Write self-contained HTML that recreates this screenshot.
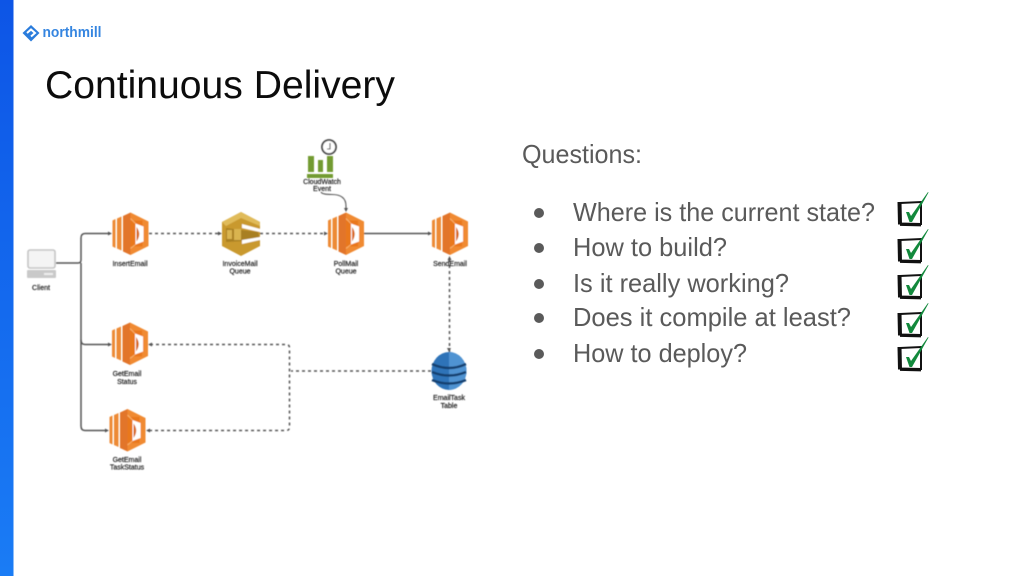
<!DOCTYPE html>
<html><head><meta charset="utf-8"><style>
html,body{margin:0;padding:0;background:#fff;width:1024px;height:576px;overflow:hidden}
svg{display:block;font-family:"Liberation Sans",sans-serif}
.lb{font-size:7px;fill:#222;stroke:#222;stroke-width:.2;text-anchor:middle}
.q{font-size:26px;fill:#5a5a5a}
</style></head><body>
<svg width="1024" height="576" viewBox="0 0 1024 576" xmlns="http://www.w3.org/2000/svg">
<defs>
<linearGradient id="bar" x1="0" y1="0" x2="0" y2="1"><stop offset="0" stop-color="#0d55e6"/><stop offset="1" stop-color="#1a7cf5"/></linearGradient>
<filter id="b"><feGaussianBlur stdDeviation="0.5"/></filter>
<filter id="s"><feGaussianBlur stdDeviation="0.3"/></filter>
<g id="lam">
<polygon points="0,8 3,6.5 3,35.5 0,34" fill="#ed8a35"/>
<polygon points="4.5,6 9,4 9,38 4.5,36" fill="#ed8a35"/>
<polygon points="10.5,3.5 18,0 18,42.5 10.5,39" fill="#e2742a"/>
<polygon points="18,0 36,9 36,33.5 18,42.5" fill="#f08a33"/>
<path d="M18 8 H30 V34 H18" fill="#e9781f"/>
<polygon points="23,11 31,14 31,29 23,32" fill="#fff"/>
<path d="M24 14.5 Q29.5 21.5 24 29 Z" fill="#d9691f"/>
<path d="M18 6 L23 11 M18 36 L23 32" stroke="#f8b06c" stroke-width="1"/>
</g>
<g id="chk">
<path d="M2 3 L23 2 L23 24 L2 23.5 Z" fill="#fff" stroke="#111" stroke-width="2"/>
<path d="M1.5 2 L2 24.5" stroke="#111" stroke-width="4" fill="none"/>
<path d="M2 24.5 L23 25" stroke="#111" stroke-width="2.8" fill="none"/>
<polygon points="8,12 11,12 13,16 30,-8 30.5,-7.5 14,22 11.5,22" fill="#12893c"/>
</g>
</defs>
<rect width="1024" height="576" fill="#fff"/>
<rect x="0" y="0" width="13.5" height="576" fill="url(#bar)"/>
<g filter="url(#s)">
<polygon points="31,25 39.5,33 31,41.5 22.5,33" fill="#2a7bdc"/>
<path d="M27 33 L31 29.5 L35 33 L31 36.5" fill="none" stroke="#fff" stroke-width="2"/>
<text x="42.5" y="37" font-size="14.5" font-weight="bold" fill="#3585e0" textLength="59" lengthAdjust="spacingAndGlyphs">northmill</text>
</g>
<text x="45" y="98" font-size="39" fill="#0c0c0c" textLength="350" lengthAdjust="spacingAndGlyphs">Continuous Delivery</text>

<g filter="url(#b)">
<g fill="none" stroke="#555" stroke-width="1.5">
<path d="M56 263 H78 Q81 263 81 260 V238 Q81 233.5 85 233.5 H110"/>
<path d="M81 263 V340 Q81 344.5 85 344.5 H110"/>
<path d="M81 340 V426 Q81 430.5 85 430.5 H107"/>
<path d="M364 233.5 H430"/>
<path d="M321 192 Q322 194.5 332 194.5 Q346 194.5 346 206 V211" stroke-width="1.1"/>
</g>
<g fill="none" stroke="#555" stroke-width="1.5" stroke-dasharray="3 3">
<path d="M149 233.5 H220"/>
<path d="M260 233.5 H326"/>
<path d="M449.5 352 V258"/>
<path d="M431 371 H291"/>
<path d="M150 344.5 H286 Q289.5 344.5 289.5 348 V427 Q289.5 430.5 286 430.5 H148"/>
</g>
<g fill="#555">
<polygon points="112,233.5 108,231.5 108,235.5"/>
<polygon points="222,233.5 218,231.5 218,235.5"/>
<polygon points="328,233.5 324,231.5 324,235.5"/>
<polygon points="432,233.5 428,231.5 428,235.5"/>
<polygon points="112,344.5 108,342.5 108,346.5"/>
<polygon points="109,430.5 105,428.5 105,432.5"/>
<polygon points="346,212 344,208 348,208"/>
<polygon points="449.5,256 447.5,260 451.5,260"/>
<polygon points="449,352 447,348 451,348"/>
<polygon points="148,344.5 152,342.5 152,346.5"/>
<polygon points="146,430.5 150,428.5 150,432.5"/>
</g>
<use href="#lam" x="112.5" y="212.5"/>
<use href="#lam" x="328" y="212.5"/>
<use href="#lam" x="432" y="212.5"/>
<use href="#lam" x="112" y="322.5"/>
<use href="#lam" x="109.5" y="409"/>

<rect x="28" y="250" width="27" height="18" rx="2" fill="#f4f4f4" stroke="#c4c4c4" stroke-width="1.6"/>
<rect x="27" y="270" width="29" height="8" rx="1" fill="#c9c9c9"/>
<rect x="44" y="273" width="9" height="2" fill="#eee"/>

<polygon points="241,212 260,222 260,246 241,256 222,246 222,222" fill="#c9992f"/>
<polygon points="241,212 260,222 260,226 241,218 226,226 222,222" fill="#e0bb5a"/>
<polygon points="226,228 258,232 260,240 226,242" fill="#a87f22"/>
<rect x="227" y="230" width="5" height="9" fill="#d9b450"/>
<rect x="234" y="229" width="7" height="11" fill="#d9b450"/>
<polygon points="242,224 260,229 260,232 242,228" fill="#fff"/>
<polygon points="242,240 260,237 260,240 242,244" fill="#fff"/>

<g fill="#739b33">
<rect x="308" y="156" width="6" height="16"/>
<rect x="318" y="160" width="5" height="12"/>
<rect x="327" y="156" width="6" height="16"/>
<rect x="307" y="174" width="26" height="4"/>
</g>
<circle cx="329" cy="147" r="7" fill="#fff" stroke="#444" stroke-width="1.8"/>
<path d="M330 143 V149 H327" fill="none" stroke="#444" stroke-width="1.1"/>

<ellipse cx="449" cy="371" rx="17.5" ry="19" fill="#2e73b8"/>
<path d="M449 352 A17.5 19 0 0 1 449 390 Z" fill="#4f93d2"/>
<path d="M432 364 Q449 372 466 364 M432 372 Q449 379 466 372 M432 380 Q449 387 466 380" fill="none" stroke="#17406f" stroke-width="2.4"/>

<text class="lb" x="130" y="266">InsertEmail</text>
<text class="lb" x="240" y="266">InvoiceMail</text><text class="lb" x="240" y="273.5">Queue</text>
<text class="lb" x="346" y="266">PollMail</text><text class="lb" x="346" y="273.5">Queue</text>
<text class="lb" x="450" y="266">SendEmail</text>
<text class="lb" x="322" y="184">CloudWatch</text><text class="lb" x="322" y="191">Event</text>
<text class="lb" x="41" y="290">Client</text>
<text class="lb" x="127" y="376">GetEmail</text><text class="lb" x="127" y="384">Status</text>
<text class="lb" x="127" y="462">GetEmail</text><text class="lb" x="127" y="469.5">TaskStatus</text>
<text class="lb" x="449" y="400">EmailTask</text><text class="lb" x="449" y="408">Table</text>
</g>

<text class="q" x="522" y="163" textLength="120" lengthAdjust="spacingAndGlyphs">Questions:</text>
<g fill="#5a5a5a">
<circle cx="539" cy="213" r="5"/><circle cx="539" cy="248" r="5"/><circle cx="539" cy="284" r="5"/><circle cx="539" cy="318" r="5"/><circle cx="539" cy="354" r="5"/>
</g>
<text class="q" x="573" y="221" textLength="302" lengthAdjust="spacingAndGlyphs">Where is the current state?</text>
<text class="q" x="573" y="256" textLength="154" lengthAdjust="spacingAndGlyphs">How to build?</text>
<text class="q" x="573" y="292" textLength="216" lengthAdjust="spacingAndGlyphs">Is it really working?</text>
<text class="q" x="573" y="326" textLength="278" lengthAdjust="spacingAndGlyphs">Does it compile at least?</text>
<text class="q" x="573" y="362" textLength="174" lengthAdjust="spacingAndGlyphs">How to deploy?</text>

<use href="#chk" x="898" y="200"/>
<use href="#chk" x="898" y="237"/>
<use href="#chk" x="898" y="273"/>
<use href="#chk" x="898" y="311"/>
<use href="#chk" x="898" y="345"/>
</svg>
</body></html>
